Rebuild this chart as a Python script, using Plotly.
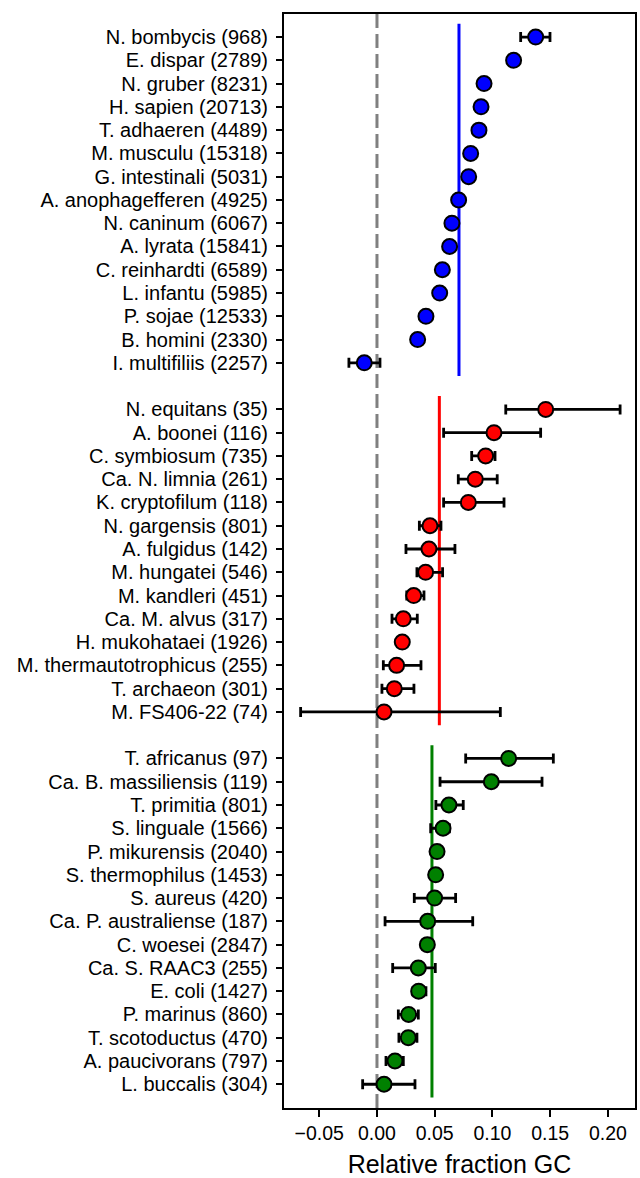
import plotly.graph_objects as go

# ---------------- data ----------------
blue_labels = ["N. bombycis (968)", "E. dispar (2789)", "N. gruber (8231)", "H. sapien (20713)",
               "T. adhaeren (4489)", "M. musculu (15318)", "G. intestinali (5031)",
               "A. anophagefferen (4925)", "N. caninum (6067)", "A. lyrata (15841)",
               "C. reinhardti (6589)", "L. infantu (5985)", "P. sojae (12533)",
               "B. homini (2330)", "I. multifiliis (2257)"]
blue_vals = [0.1374, 0.1183, 0.0927, 0.0901, 0.0883, 0.0811, 0.0794, 0.0707, 0.0649,
             0.0629, 0.0566, 0.0543, 0.0424, 0.0352, -0.0110]
blue_err_lo = [0.0130, 0.004, 0.003, 0.002, 0.002, 0.003, 0.003, 0.003, 0.003,
               0.003, 0.003, 0.003, 0.003, 0.004, 0.0133]
blue_err_hi = [0.0124, 0.004, 0.003, 0.002, 0.002, 0.003, 0.003, 0.003, 0.003,
               0.003, 0.003, 0.003, 0.003, 0.004, 0.0136]
blue_mean = 0.0710

red_labels = ["N. equitans (35)", "A. boonei (116)", "C. symbiosum (735)", "Ca. N. limnia (261)",
              "K. cryptofilum (118)", "N. gargensis (801)", "A. fulgidus (142)",
              "M. hungatei (546)", "M. kandleri (451)", "Ca. M. alvus (317)",
              "H. mukohataei (1926)", "M. thermautotrophicus (255)", "T. archaeon (301)",
              "M. FS406-22 (74)"]
red_vals = [0.1461, 0.1013, 0.0941, 0.0851, 0.0791, 0.0459, 0.0450, 0.0421, 0.0318,
            0.0228, 0.0219, 0.0170, 0.0150, 0.0061]
red_err_lo = [0.0346, 0.0436, 0.0121, 0.0147, 0.0214, 0.0092, 0.0199, 0.0075, 0.0060,
              0.0098, 0.003, 0.0115, 0.0107, 0.0722]
red_err_hi = [0.0644, 0.0404, 0.0081, 0.0190, 0.0309, 0.0095, 0.0225, 0.0147, 0.0089,
              0.0121, 0.003, 0.0211, 0.0170, 0.1007]
red_mean = 0.0540

green_labels = ["T. africanus (97)", "Ca. B. massiliensis (119)", "T. primitia (801)",
                "S. linguale (1566)", "P. mikurensis (2040)", "S. thermophilus (1453)",
                "S. aureus (420)", "Ca. P. australiense (187)", "C. woesei (2847)",
                "Ca. S. RAAC3 (255)", "E. coli (1427)", "P. marinus (860)",
                "T. scotoductus (470)", "A. paucivorans (797)", "L. buccalis (304)"]
green_vals = [0.1140, 0.0990, 0.0623, 0.0572, 0.0520, 0.0508, 0.0499, 0.0439, 0.0436,
              0.0358, 0.0361, 0.0274, 0.0271, 0.0156, 0.0061]
green_err_lo = [0.0372, 0.0444, 0.0113, 0.0107, 0.003, 0.003, 0.0176, 0.0369, 0.003,
                0.0222, 0.0050, 0.0089, 0.0081, 0.0078, 0.0185]
green_err_hi = [0.0387, 0.0439, 0.0124, 0.0055, 0.003, 0.003, 0.0182, 0.0390, 0.003,
                0.0147, 0.0063, 0.0084, 0.0075, 0.0072, 0.0268]
green_mean = 0.0476

x_ticks = [-0.05, 0.00, 0.05, 0.10, 0.15, 0.20]
x_title = "Relative fraction GC"

groups = [
    (blue_labels, blue_vals, blue_err_lo, blue_err_hi, blue_mean, "#0000ff"),
    (red_labels, red_vals, red_err_lo, red_err_hi, red_mean, "#ff0000"),
    (green_labels, green_vals, green_err_lo, green_err_hi, green_mean, "#008000"),
]

# ---------------- figure ----------------
fig = go.Figure()
FONT = "Liberation Sans, Arial, Helvetica, sans-serif"

tickvals, ticktext = [], []
pos = 0
placed = []
for labels, vals, lo, hi, mean, color in groups:
    ys = list(range(pos, pos + len(labels)))
    tickvals += ys
    ticktext += labels
    placed.append((ys, vals, lo, hi, mean, color))
    pos += len(labels) + 1

# group mean lines (behind)
for ys, vals, lo, hi, mean, color in placed:
    fig.add_trace(go.Scatter(
        x=[mean, mean], y=[ys[0] - 0.57, ys[-1] + 0.57], mode="lines",
        line=dict(color=color, width=3), showlegend=False, hoverinfo="skip"))

# zero reference line
fig.add_shape(type="line", xref="x", yref="paper", x0=0, x1=0, y0=0, y1=1,
              line=dict(color="#808080", width=3, dash="14px,6px"), layer="below")

# points with error bars
for ys, vals, lo, hi, mean, color in placed:
    fig.add_trace(go.Scatter(
        x=vals, y=ys, mode="markers",
        marker=dict(size=15, color=color, line=dict(color="black", width=2)),
        error_x=dict(type="data", symmetric=False, array=hi, arrayminus=lo,
                     color="black", thickness=2.8, width=5),
        showlegend=False))

fig.update_layout(
    width=640, height=1178,
    margin=dict(l=284, r=5, t=14, b=70),
    paper_bgcolor="white", plot_bgcolor="white",
    font=dict(family=FONT, color="black", size=19),
    showlegend=False,
)
fig.update_xaxes(
    range=[-0.0805, 0.2234], tickvals=x_ticks, tickformat=".2f",
    ticks="outside", ticklen=7, tickwidth=1.8, tickcolor="black",
    showline=True, linecolor="black", linewidth=2, mirror=True,
    showgrid=False, zeroline=False, automargin=False,
    tickfont=dict(size=19.5, family=FONT),
    title=dict(text=x_title, font=dict(size=25, family=FONT), standoff=13),
)
fig.update_yaxes(
    range=[46.02, -0.99], tickvals=tickvals, ticktext=ticktext,
    ticks="outside", ticklen=6, tickwidth=1.8, tickcolor="black",
    showline=True, linecolor="black", linewidth=2, mirror=True,
    showgrid=False, zeroline=False, automargin=False,
    tickfont=dict(size=20, family=FONT), ticklabelstandoff=4,
)

fig.write_html("out.html", config={"displayModeBar": False},
               post_script="document.body.style.margin='0px';document.body.style.overflow='hidden';")
